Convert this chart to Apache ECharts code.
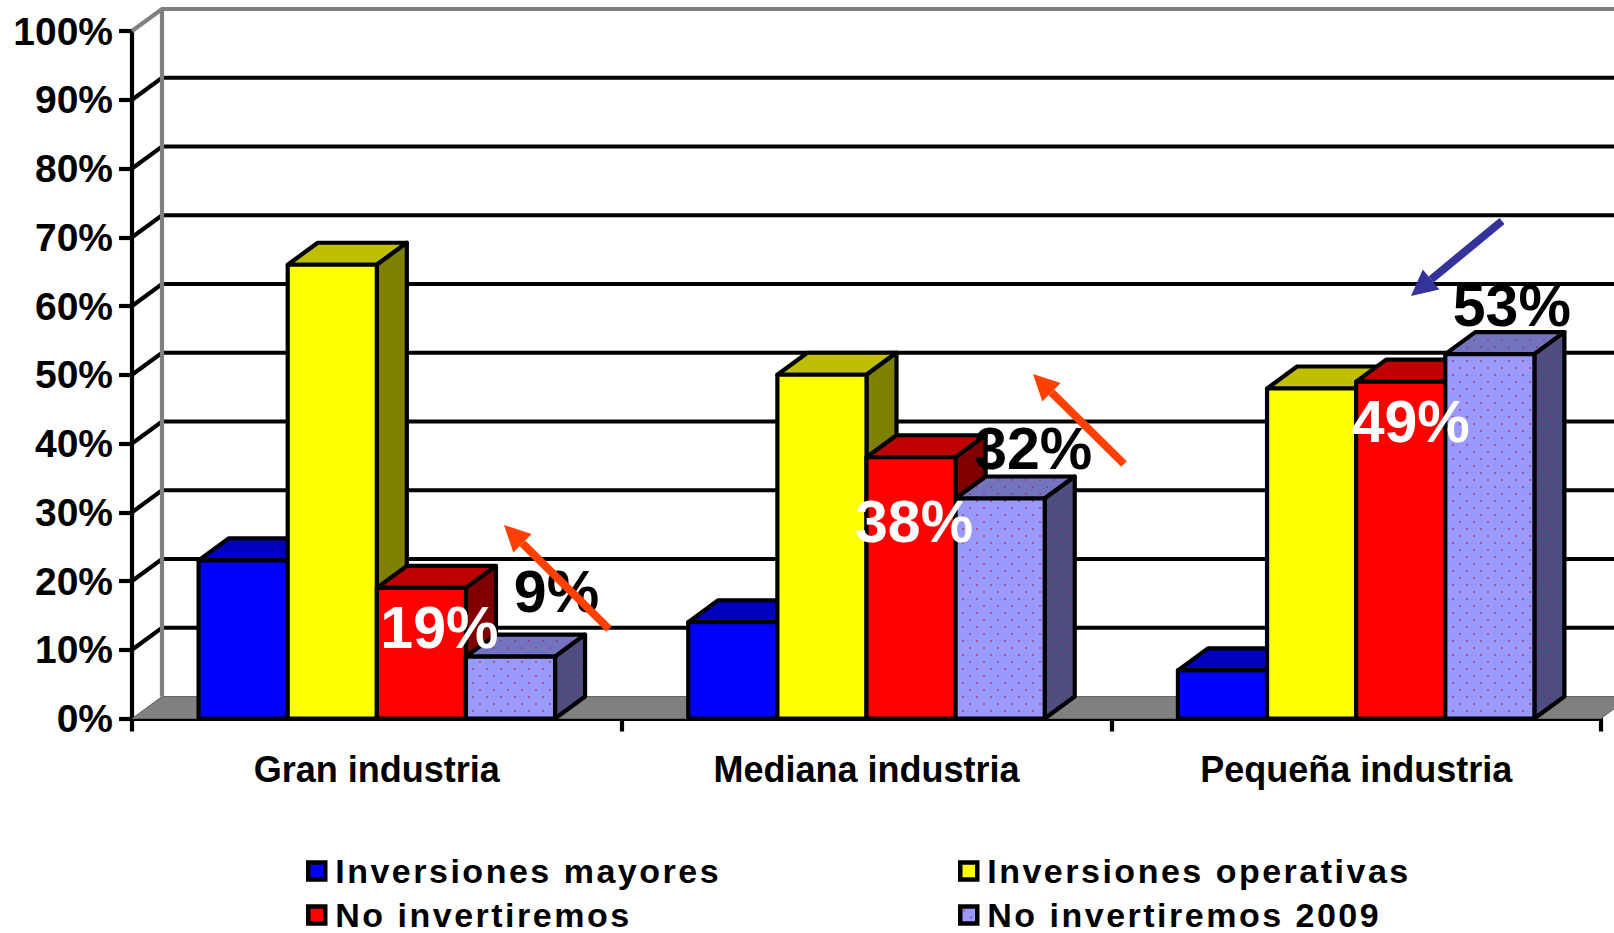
<!DOCTYPE html>
<html>
<head>
<meta charset="utf-8">
<title>Inversiones</title>
<style>
  html, body { margin: 0; padding: 0; background: #fff; }
  #main { width: 1614px; height: 933px; }
  /* legend text is spaced out in the original */
  #main text[style*="34px"] { letter-spacing: 2.5px; }
</style>
<script src="https://cdn.jsdelivr.net/npm/echarts@6/dist/echarts.min.js"></script>
</head>
<body>
<div id="main"></div>
<script>
const categories = ["Gran industria", "Mediana industria", "Pequeña industria"];
const seriesNames = ["Inversiones mayores", "Inversiones operativas", "No invertiremos", "No invertiremos 2009"];
const mayores = [23, 14, 7];
const operativas = [66, 50, 48];
const noInvertiremos = [19, 38, 49];
const noInvertiremos2009 = [9, 32, 53];
const gridValues = [10, 20, 30, 40, 50, 60, 70, 80, 90];

// label nudges, px from the bar's top centre
const redLabelOffsets = [[18, 40], [3, 65], [10, 40]];
const purpleLabelOffsets = [[46, -65], [33, -50], [22, -48]];

const DX = 30;
const DY = 22;
const LINE = 4.2;
const FONT = '"Liberation Sans", Arial, sans-serif';

// dotted fill of the 2009 series
function dots(base, dot) {
  let c = document.createElement("canvas");
  c.width = 14;
  c.height = 14;
  let ctx = c.getContext("2d");
  ctx.fillStyle = base;
  ctx.fillRect(0, 0, 14, 14);
  ctx.fillStyle = dot;
  ctx.fillRect(3, 3, 2, 2);
  ctx.fillRect(10, 10, 2, 2);
  return { image: c, repeat: "repeat" };
}

const faces = [
  { front: "#0000ff", top: "#0000bf", side: "#000080" },
  { front: "#ffff00", top: "#bfbf00", side: "#808000" },
  { front: "#ff0000", top: "#bf0000", side: "#800000" },
  {
    front: dots("#9999ff", "#a0558f"),
    top: dots("#7373bf", "#8c4c8c"),
    side: dots("#4d4d80", "#803c70"),
  },
];

function barLeft(api, cat, idx) {
  let band = api.size([1, 0])[0];
  let w = band * 0.182;
  return api.coord([cat, 0])[0] - 2 * w + idx * w;
}

function renderBar(idx) {
  return function (params, api) {
    let cat = api.value(0);
    let band = api.size([1, 0])[0];
    let w = band * 0.182;
    let x = barLeft(api, cat, idx);
    let y0 = api.coord([cat, 0])[1];
    let y1 = api.coord([cat, api.value(1)])[1];
    let line = { stroke: "#000", lineWidth: LINE, lineJoin: "round" };
    return {
      type: "group",
      children: [
        {
          type: "polygon",
          shape: { points: [[x, y1], [x + DX, y1 - DY], [x + w + DX, y1 - DY], [x + w, y1]] },
          style: Object.assign({ fill: faces[idx].top }, line),
        },
        {
          type: "polygon",
          shape: { points: [[x + w, y1], [x + w + DX, y1 - DY], [x + w + DX, y0 - DY], [x + w, y0]] },
          style: Object.assign({ fill: faces[idx].side }, line),
        },
        {
          type: "rect",
          shape: { x: x, y: y1, width: w, height: y0 - y1 },
          style: Object.assign({ fill: faces[idx].front }, line),
        },
      ],
    };
  };
}

function renderWall(params, api) {
  let rect = params.coordSys;
  let x0 = rect.x;
  let x1 = rect.x + rect.width;
  let y0 = api.coord([0, 0])[1];
  let yTop = api.coord([0, 100])[1];
  let children = [
    {
      type: "polygon",
      shape: { points: [[x0, y0], [x0 + DX, y0 - DY], [x1 + DX, y0 - DY], [x1, y0]] },
      style: { fill: "#808080", stroke: "#666", lineWidth: 1 },
    },
  ];
  gridValues.forEach(function (v) {
    let y = api.coord([0, v])[1];
    children.push({
      type: "polyline",
      shape: { points: [[x0, y], [x0 + DX, y - DY], [x1 + DX, y - DY]] },
      style: { stroke: "#000", fill: "none", lineWidth: LINE },
    });
  });
  children.push({
    type: "polyline",
    shape: { points: [[x0, yTop], [x0 + DX, yTop - DY], [x1 + DX, yTop - DY]] },
    style: { stroke: "#808080", fill: "none", lineWidth: LINE },
  });
  children.push({
    type: "line",
    shape: { x1: x0 + DX, y1: yTop - DY, x2: x0 + DX, y2: y0 - DY },
    style: { stroke: "#808080", lineWidth: LINE },
  });
  return { type: "group", children: children };
}

function renderLabel(params, api) {
  let cat = api.value(0);
  let idx = api.value(2);
  let band = api.size([1, 0])[0];
  let w = band * 0.182;
  let x = barLeft(api, cat, idx) + w / 2 + api.value(3);
  let y = api.coord([cat, api.value(1)])[1] + api.value(4);
  return {
    type: "text",
    style: {
      x: x,
      y: y,
      text: api.value(1) + "%",
      fill: idx === 2 ? "#fff" : "#000",
      font: "bold 59px " + FONT,
      textAlign: "center",
      textVerticalAlign: "middle",
    },
  };
}

let labelRows = [];
categories.forEach(function (c, i) {
  labelRows.push([i, noInvertiremos[i], 2, redLabelOffsets[i][0], redLabelOffsets[i][1]]);
  labelRows.push([i, noInvertiremos2009[i], 3, purpleLabelOffsets[i][0], purpleLabelOffsets[i][1]]);
});

// hand drawn arrows on top of the chart: from, to, colour
const arrows = [
  [[609, 629], [504, 525], "#ff4000"],
  [[1124, 464], [1033, 374], "#ff4000"],
  [[1502, 221], [1411, 296], "#333399"],
];

function arrowShapes(a) {
  let from = a[0], to = a[1];
  let len = Math.hypot(to[0] - from[0], to[1] - from[1]);
  let ux = (to[0] - from[0]) / len, uy = (to[1] - from[1]) / len;
  let bx = to[0] - ux * 26, by = to[1] - uy * 26;
  let px = -uy * 13, py = ux * 13;
  return [
    {
      type: "line",
      z: 100,
      shape: { x1: from[0], y1: from[1], x2: bx, y2: by },
      style: { stroke: a[2], lineWidth: 8 },
    },
    {
      type: "polygon",
      z: 100,
      shape: { points: [to, [bx + px, by + py], [bx - px, by - py]] },
      style: { fill: a[2] },
    },
  ];
}

function legendItem(i) {
  return {
    name: seriesNames[i],
    itemStyle: { color: faces[i].front, borderColor: "#000", borderWidth: 4.5 },
  };
}
let legendBase = {
  orient: "vertical",
  icon: "rect",
  selectedMode: false,
  padding: 0,
  height: 80,
  itemWidth: 17,
  itemHeight: 17,
  itemGap: 10,
  textStyle: { fontFamily: FONT, fontWeight: "bold", fontSize: 34, color: "#000", padding: [0, 0, 0, 5] },
};

let data = [mayores, operativas, noInvertiremos, noInvertiremos2009];
let barSeries = data.map(function (vals, idx) {
  return {
    name: seriesNames[idx],
    type: "custom",
    renderItem: renderBar(idx),
    encode: { x: 0, y: 1 },
    data: vals.map(function (v, i) { return [i, v]; }),
  };
});

let myChart = echarts.init(document.getElementById("main"), null, { renderer: "svg" });
let option = {
  animation: false,
  backgroundColor: "#fff",
  grid: { left: 132, right: 13, top: 31, bottom: 214.5, containLabel: false },
  legend: [
    Object.assign({}, legendBase, { left: 306, top: 854, data: [legendItem(0), legendItem(2)] }),
    Object.assign({}, legendBase, { left: 958, top: 854, data: [legendItem(1), legendItem(3)] }),
  ],
  xAxis: {
    type: "category",
    data: categories,
    axisLine: { lineStyle: { color: "#000", width: LINE } },
    axisTick: { show: true, length: 13, lineStyle: { color: "#000", width: LINE } },
    axisLabel: { margin: 33, fontFamily: FONT, fontWeight: "bold", fontSize: 36, color: "#000" },
    splitLine: { show: false },
  },
  yAxis: {
    type: "value",
    min: 0,
    max: 100,
    interval: 10,
    axisLine: { show: true, lineStyle: { color: "#000", width: LINE } },
    axisTick: { show: true, length: 13, lineStyle: { color: "#000", width: LINE } },
    axisLabel: { margin: 19, formatter: "{value}%", fontFamily: FONT, fontWeight: "bold", fontSize: 39, color: "#000" },
    splitLine: { show: false },
  },
  graphic: { elements: arrows.map(arrowShapes).flat() },
  series: [
    { type: "custom", renderItem: renderWall, encode: { x: 0, y: 1 }, data: [[0, 0]], silent: true },
  ].concat(barSeries, [
    { type: "custom", renderItem: renderLabel, encode: { x: 0, y: 1 }, data: labelRows, silent: true },
  ]),
};
myChart.setOption(option);
</script>
</body>
</html>
